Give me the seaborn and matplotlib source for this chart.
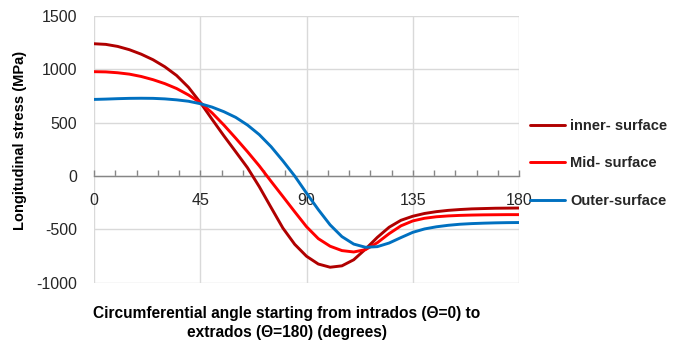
import numpy as np
import pandas as pd
import seaborn as sns
import matplotlib
matplotlib.use("Agg")
import matplotlib.pyplot as plt

# Circumferential angle (degrees) and longitudinal stress (MPa) on each surface
angle = list(range(0, 181, 5))
inner_surface = [1240, 1234, 1215, 1184, 1142, 1090, 1024, 942, 832, 690,
                 532, 377, 228, 78, -100, -295, -488, -640, -752, -825,
                 -855, -842, -785, -685, -575, -480, -415, -377, -351, -334,
                 -322, -314, -308, -305, -302, -301, -300]
mid_surface = [978, 976, 968, 955, 933, 903, 866, 820, 760, 688,
               592, 478, 355, 228, 95, -50, -192, -335, -475, -587,
               -658, -699, -712, -690, -625, -540, -467, -421, -396, -382,
               -374, -369, -366, -364, -363, -362, -362]
outer_surface = [718, 721, 725, 728, 729, 728, 723, 714, 701, 678,
                 646, 603, 550, 478, 388, 275, 142, 0, -160, -315,
                 -458, -568, -638, -668, -662, -628, -577, -528, -496, -476,
                 -462, -452, -446, -442, -439, -437, -436]
series_names = ["inner- surface", "Mid- surface", "Outer-surface"]
series_colors = ["#B00000", "#FF0000", "#0070C0"]

df = pd.concat([
    pd.DataFrame({"angle": angle, "stress": vals, "surface": name})
    for name, vals in zip(series_names, [inner_surface, mid_surface, outer_surface])
])

sns.set_theme(style="white")
plt.rcParams["font.family"] = ["Liberation Sans", "DejaVu Sans"]
plt.rcParams["axes.unicode_minus"] = False

fig = plt.figure(figsize=(6.83, 3.41), dpi=100)
ax = fig.add_axes([94 / 683, 1 - 282.7 / 341, (519 - 94) / 683, (282.7 - 16) / 341])

sns.lineplot(data=df, x="angle", y="stress", hue="surface", hue_order=series_names,
             palette=series_colors, linewidth=2.1, ax=ax, legend=True, zorder=3)

ax.set_xlim(0, 180)
ax.set_ylim(-1000, 1500)
ax.set_xticks([0, 45, 90, 135, 180])
ax.set_xticks(np.arange(0, 181, 9), minor=True)
ax.set_yticks([-1000, -500, 0, 500, 1000, 1500])
ax.grid(True, which="major", color="#D9D9D9", linewidth=1.0)
ax.set_axisbelow(True)

for side in ["top", "right", "left"]:
    ax.spines[side].set_visible(False)
ax.spines["bottom"].set_position(("data", 0))
ax.spines["bottom"].set_color("#868686")
ax.spines["bottom"].set_linewidth(1.0)
ax.spines["bottom"].set_zorder(2)

ax.tick_params(axis="x", which="both", direction="in", length=4, width=1,
               color="#868686", bottom=True, labelsize=11.5, labelcolor="#262626", pad=12)
ax.tick_params(axis="y", length=0, labelsize=11.5, labelcolor="#262626", pad=12)
ax.set_xlabel("")
ax.set_ylabel("")

handles, labels = ax.get_legend_handles_labels()
ax.get_legend().remove()
fig.legend(handles, labels, loc="upper left", bbox_to_anchor=(517 / 683, 1 - 106 / 341),
           frameon=False, handlelength=2.4, handletextpad=0.35, labelspacing=1.6,
           prop={"weight": "bold", "size": 10.5})

fig.text(20 / 683, 1 - 140 / 341, "Longitudinal stress (MPa)", rotation=90,
         ha="center", va="center", fontsize=10.5, fontweight="bold", color="#000000")
fig.text(287 / 683, 1 - 323 / 341,
         "Circumferential angle starting from intrados (\u0398=0) to\nextrados (\u0398=180) (degrees)",
         ha="center", va="center", fontsize=11.2, fontweight="bold", color="#000000",
         linespacing=1.4)

fig.savefig("out.png", dpi=100, facecolor="white")
